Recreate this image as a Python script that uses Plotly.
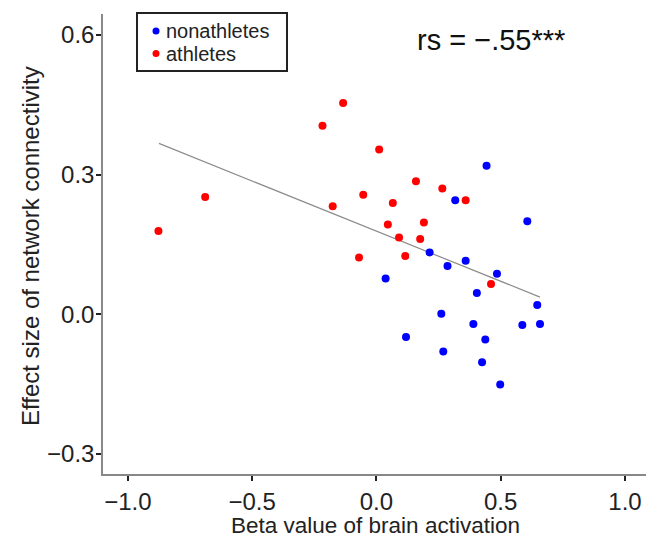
import plotly.graph_objects as go

# athletes (red)
ath_x = [-0.134, -0.217, 0.011, -0.053, 0.066, -0.176, -0.689, -0.877, 0.046, 0.091,
         -0.070, 0.159, 0.265, 0.359, 0.191, 0.176, 0.116, 0.461]
ath_y = [0.454, 0.405, 0.354, 0.257, 0.239, 0.232, 0.252, 0.179, 0.193, 0.165,
         0.122, 0.286, 0.270, 0.245, 0.197, 0.162, 0.125, 0.065]
# nonathletes (blue)
non_x = [0.037, 0.443, 0.317, 0.607, 0.214, 0.359, 0.286, 0.485, 0.404, 0.647,
         0.261, 0.390, 0.587, 0.658, 0.119, 0.438, 0.269, 0.425, 0.498]
non_y = [0.077, 0.319, 0.245, 0.200, 0.133, 0.115, 0.104, 0.087, 0.046, 0.020,
         0.001, -0.021, -0.023, -0.021, -0.049, -0.054, -0.080, -0.103, -0.151]
# fitted line endpoints
fit_x = [-0.875, 0.658]
fit_y = [0.367, 0.037]

x_ticks = [-1.0, -0.5, 0.0, 0.5, 1.0]
x_tick_text = ["\u22121.0", "\u22120.5", "0.0", "0.5", "1.0"]
y_ticks = [-0.3, 0.0, 0.3, 0.6]
y_tick_text = ["\u22120.3", "0.0", "0.3", "0.6"]

legend_names = ["nonathletes", "athletes"]
legend_colors = ["#0000ff", "#ff0000"]

FONT = "Liberation Sans, Arial, sans-serif"
W, H = 646, 541
ML, MR, MT, MB = 103, 0, 14, 67
PW, PH = W - ML - MR, H - MT - MB


def px_x(p):
    return (p - ML) / PW


def px_y(p):
    return (H - MB - p) / PH


fig = go.Figure()
fig.add_trace(go.Scatter(x=fit_x, y=fit_y, mode="lines",
                         line=dict(color="#8c8c8c", width=1.2),
                         showlegend=False, hoverinfo="skip"))
fig.add_trace(go.Scatter(x=non_x, y=non_y, mode="markers", name=legend_names[0],
                         marker=dict(color=legend_colors[0], size=8), showlegend=False))
fig.add_trace(go.Scatter(x=ath_x, y=ath_y, mode="markers", name=legend_names[1],
                         marker=dict(color=legend_colors[1], size=8), showlegend=False))

axis_common = dict(showgrid=False, zeroline=False, showline=True,
                   linecolor="#888888", linewidth=1.5,
                   ticks="outside", ticklen=5, tickwidth=2, tickcolor="#222222",
                   tickfont=dict(family=FONT, size=24, color="#222222"))

fig.update_xaxes(range=[-1.1, 1.0845], tickvals=x_ticks, ticktext=x_tick_text,
                 **axis_common)
fig.update_yaxes(range=[-0.343, 0.645], tickvals=y_ticks, ticktext=y_tick_text,
                 ticklabelstandoff=-3, **axis_common)

shapes = [dict(type="rect", xref="paper", yref="paper",
               x0=px_x(137), x1=px_x(287), y0=px_y(71), y1=px_y(13),
               line=dict(color="#222222", width=2), fillcolor="white", layer="above")]
annotations = []
for i, (nm, col) in enumerate(zip(legend_names, legend_colors)):
    cy = 31 + 22.5 * i
    shapes.append(dict(type="circle", xref="paper", yref="paper",
                       x0=px_x(156 - 3.5), x1=px_x(156 + 3.5),
                       y0=px_y(cy + 3.5), y1=px_y(cy - 3.5),
                       fillcolor=col, line=dict(width=0), layer="above"))
    annotations.append(dict(text=nm, xref="paper", yref="paper",
                            x=px_x(165), y=px_y(cy), showarrow=False,
                            xanchor="left", yanchor="middle", borderpad=0,
                            font=dict(family=FONT, size=20, color="#222222")))

annotations += [
    dict(text="Beta value of brain activation", xref="paper", yref="paper",
         x=px_x(375), y=px_y(525), showarrow=False, xanchor="center", yanchor="middle",
         font=dict(family=FONT, size=22.5, color="#222222")),
    dict(text="Effect size of network connectivity", xref="paper", yref="paper",
         x=px_x(30), y=px_y(246), showarrow=False, textangle=-90,
         xanchor="center", yanchor="middle",
         font=dict(family=FONT, size=24, color="#222222")),
    dict(text="rs = \u2212.55***", xref="paper", yref="paper",
         x=px_x(491), y=px_y(40), showarrow=False, xanchor="center", yanchor="middle",
         font=dict(family=FONT, size=29, color="#111111")),
]

fig.update_layout(
    width=W, height=H,
    margin=dict(l=ML, r=MR, t=MT, b=MB, autoexpand=False),
    plot_bgcolor="white", paper_bgcolor="white",
    font=dict(family=FONT, color="#222222"),
    showlegend=False,
    shapes=shapes,
    annotations=annotations,
)

fig.write_html("out.html")
